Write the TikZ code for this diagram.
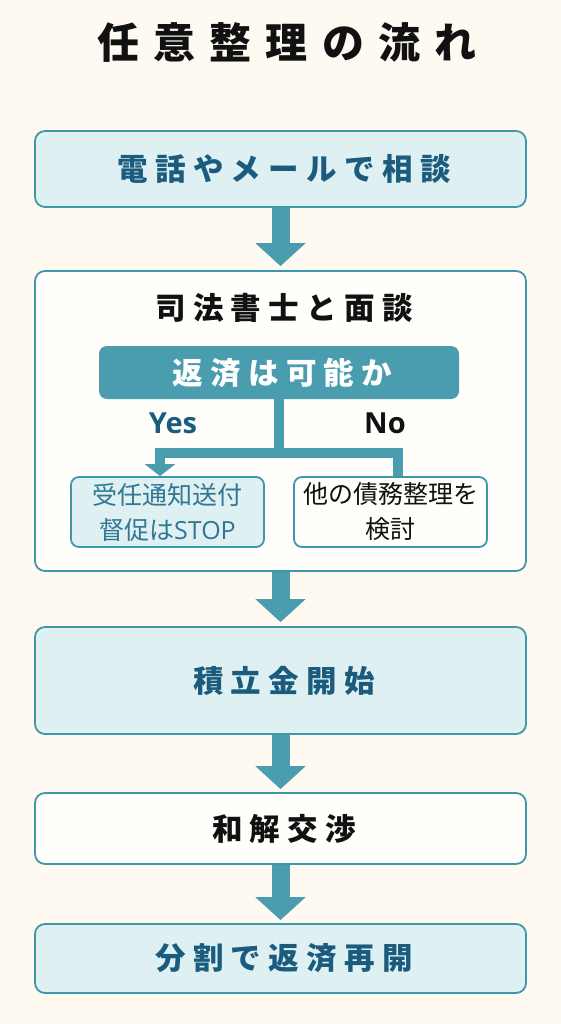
\documentclass[tikz,border=0pt]{standalone}
\usepackage{fontspec}
\setmainfont{Noto Sans CJK JP}
\newfontfamily\jpfont{Noto Sans CJK JP}
\newfontfamily\jplsp[LetterSpace=24]{Noto Sans CJK JP}
\newfontfamily\jptitle[LetterSpace=34]{Noto Sans CJK JP}
\newfontfamily\latfont{Open Sans}
\usetikzlibrary{arrows.meta}
\definecolor{bgc}{HTML}{FEFAF2}
\definecolor{edgec}{HTML}{3F97AA}
\definecolor{tealc}{HTML}{4A9DAF}
\definecolor{lightc}{HTML}{DFF0F3}
\definecolor{whitec}{HTML}{FFFEFA}
\definecolor{dbluec}{HTML}{1B5C7E}
\definecolor{mbluec}{HTML}{2F7793}
\definecolor{inkc}{HTML}{111111}
\tikzset{
  mainbox/.style={draw=edgec, line width=1.8pt, rounded corners=10pt, minimum width=491pt, inner sep=0pt},
  headtxt/.style={font=\jplsp\bfseries\fontsize{30.5}{36}\selectfont},
  subbox/.style={draw=edgec, line width=1.8pt, rounded corners=8pt, minimum width=193pt, minimum height=70pt, inner sep=0pt, align=center, font=\jpfont\fontsize{25}{35}\selectfont},
  flow/.style={draw=tealc, line width=18pt, -{Triangle[width=49pt,length=23pt]}},
  branch/.style={draw=tealc, line width=10pt},
}
\begin{document}
\begin{tikzpicture}[x=1pt, y=-1pt]
\fill[bgc] (0,0) rectangle (561,1024);
\useasboundingbox (0,0) rectangle (561,1024);

\node[font=\jptitle\bfseries\fontsize{42}{50}\selectfont, text=inkc] (title) at (280,43) {\hspace*{14pt}任意整理の流れ};

\node[mainbox, fill=lightc, minimum height=76pt, headtxt, text=dbluec] (b1) at (280.5,169) {\hspace*{7pt}電話やメールで相談};

\node[mainbox, fill=whitec, minimum height=300pt] (b2) at (280.5,421) {};
\node[headtxt, text=inkc] (b2t) at (280.5,308) {\hspace*{7pt}司法書士と面談};

\node[fill=tealc, rounded corners=8pt, minimum width=360pt, minimum height=53pt, inner sep=0pt, headtxt, text=white] (dec) at (279,372.5) {\hspace*{7pt}返済は可能か};

\node[font=\latfont\bfseries\fontsize{29}{34}\selectfont, text=dbluec] (yeslab) at (173,423) {Yes};
\node[font=\latfont\bfseries\fontsize{29}{34}\selectfont, text=inkc] (nolab) at (385,423) {No};

\node[subbox, fill=lightc, text=mbluec] (yes) at (167.5,512) {受任通知送付\\督促は\latfont STOP};
\node[subbox, fill=whitec, text=inkc] (no) at (390.5,512) {他の債務整理を\\検討};

\coordinate (split) at (279,453);
\draw[branch, -{Triangle[width=30pt,length=12pt]}] (dec.south) -- (split) -| ([xshift=-7.5pt]yes.north);
\draw[branch] (split) -| ([xshift=7.5pt]no.north);

\node[mainbox, fill=lightc, minimum height=107pt, headtxt, text=dbluec] (b3) at (280.5,680.5) {\hspace*{7pt}積立金開始};
\node[mainbox, fill=whitec, minimum height=71pt, headtxt, text=inkc] (b4) at (280.5,828.5) {\hspace*{7pt}和解交渉};
\node[mainbox, fill=lightc, minimum height=69pt, headtxt, text=dbluec] (b5) at (280.5,958.5) {\hspace*{7pt}分割で返済再開};

\draw[flow] (b1.south) -- ([yshift=4pt]b2.north);
\draw[flow] (b2.south) -- ([yshift=4pt]b3.north);
\draw[flow] (b3.south) -- ([yshift=3pt]b4.north);
\draw[flow] (b4.south) -- ([yshift=3pt]b5.north);
\end{tikzpicture}
\end{document}
